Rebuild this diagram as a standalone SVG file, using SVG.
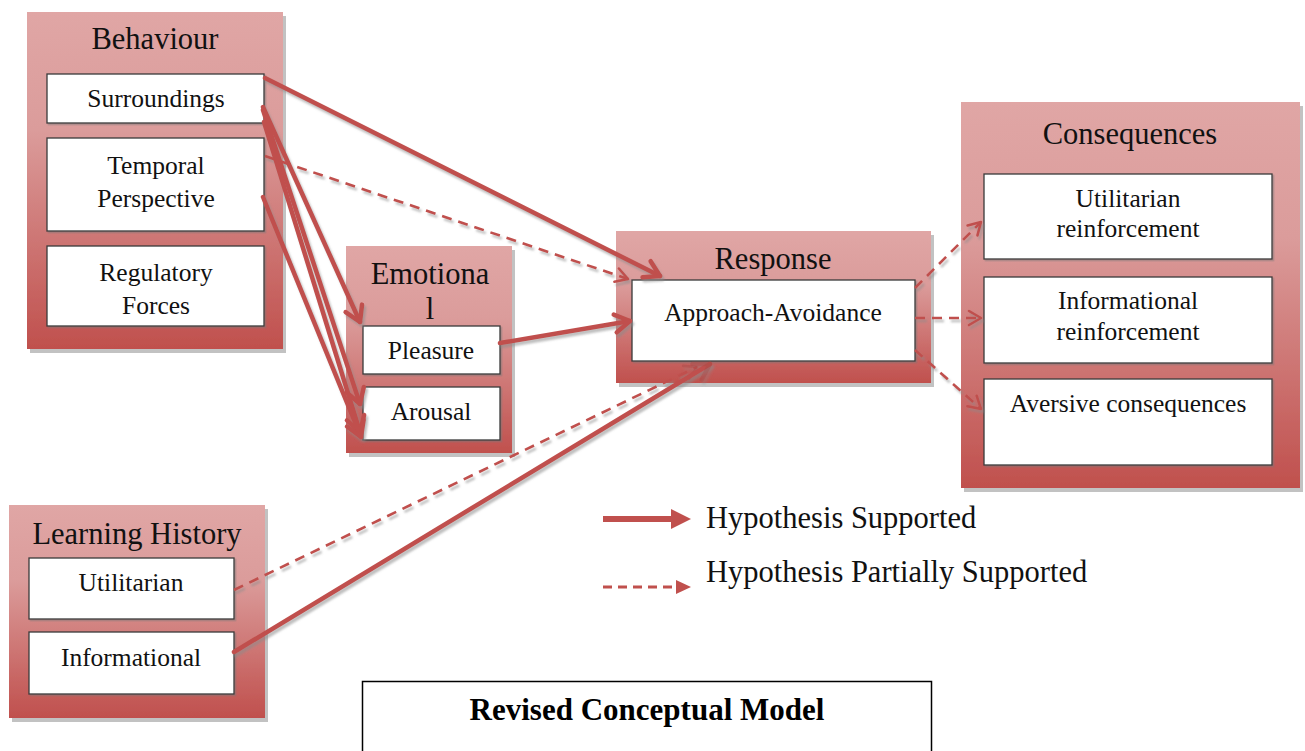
<svg xmlns="http://www.w3.org/2000/svg" width="1305" height="751" viewBox="0 0 1305 751">
  <defs>
    <linearGradient id="groupFill" x1="0" y1="0" x2="0" y2="1">
      <stop offset="0" stop-color="#e0a6a5"/>
      <stop offset="0.35" stop-color="#db9c9b"/>
      <stop offset="1" stop-color="#c0504d"/>
    </linearGradient>
    <filter id="boxShadow" x="-5%" y="-5%" width="112%" height="115%">
      <feDropShadow dx="3" dy="4" stdDeviation="0.6" flood-color="#a8a8a8" flood-opacity="0.7"/>
    </filter>
    <filter id="itemShadow" x="-5%" y="-5%" width="112%" height="120%">
      <feDropShadow dx="1.5" dy="1.5" stdDeviation="0.6" flood-color="#777" flood-opacity="0.5"/>
    </filter>
    <filter id="lineShadow" x="-10%" y="-10%" width="120%" height="130%">
      <feDropShadow dx="2" dy="3" stdDeviation="0.8" flood-color="#8a8a8a" flood-opacity="0.55"/>
    </filter>
    <marker id="headSolid" markerUnits="userSpaceOnUse" markerWidth="28" markerHeight="28" viewBox="-4 -14 28 28" refX="18" refY="0" orient="auto">
      <path d="M3,-9 L18,0 L3,9" fill="none" stroke="#c0504d" stroke-width="4.5" stroke-linecap="round" stroke-linejoin="round"/>
    </marker>
    <marker id="headSolidFaint" markerUnits="userSpaceOnUse" markerWidth="28" markerHeight="28" viewBox="-4 -14 28 28" refX="18" refY="0" orient="auto">
      <path d="M3,-9 L18,0 L3,9" fill="none" stroke="#a84a48" stroke-opacity="0.5" stroke-width="4.5" stroke-linecap="round" stroke-linejoin="round"/>
    </marker>
    <marker id="headDashed" markerUnits="userSpaceOnUse" markerWidth="22" markerHeight="22" viewBox="-3 -11 22 22" refX="14" refY="0" orient="auto">
      <path d="M2,-7 L14,0 L2,7" fill="none" stroke="#c0504d" stroke-width="2.6" stroke-linecap="round" stroke-linejoin="round"/>
    </marker>
    <marker id="headDashedFaint" markerUnits="userSpaceOnUse" markerWidth="22" markerHeight="22" viewBox="-3 -11 22 22" refX="14" refY="0" orient="auto">
      <path d="M2,-7 L14,0 L2,7" fill="none" stroke="#a84a48" stroke-opacity="0.45" stroke-width="2.6" stroke-linecap="round" stroke-linejoin="round"/>
    </marker>
  </defs>
  <style>
    .group { fill: url(#groupFill); filter: url(#boxShadow); }
    .item { fill: #ffffff; stroke: #3a3a3a; stroke-width: 1.3; filter: url(#itemShadow); }
    .title { font-family: "Liberation Serif", "Times New Roman", serif; font-size: 30.5px; fill: #111; text-anchor: middle; }
    .label { font-family: "Liberation Serif", "Times New Roman", serif; font-size: 25.5px; fill: #111; text-anchor: middle; }
    .legend { font-family: "Liberation Serif", "Times New Roman", serif; font-size: 30.5px; fill: #111; }
    .caption { font-family: "Liberation Serif", "Times New Roman", serif; font-size: 31px; font-weight: bold; fill: #000; text-anchor: middle; }
    .solid { fill: none; stroke: #c0504d; stroke-width: 4.5; stroke-linecap: round; }
    .dashed { fill: none; stroke: #c0504d; stroke-width: 2.6; stroke-dasharray: 10 7; }
  </style>

  <rect width="1305" height="751" fill="#ffffff"/>

  <!-- Behaviour -->
  <g id="behaviour">
    <rect class="group" x="27" y="12" width="256" height="337"/>
    <text class="title" x="155" y="49">Behaviour</text>
    <rect class="item" x="47" y="74" width="217" height="49"/>
    <text class="label" x="156" y="107">Surroundings</text>
    <rect class="item" x="47" y="138" width="217" height="93"/>
    <text class="label" x="156" y="174">Temporal</text>
    <text class="label" x="156" y="207">Perspective</text>
    <rect class="item" x="47" y="246" width="217" height="80"/>
    <text class="label" x="156" y="281">Regulatory</text>
    <text class="label" x="156" y="314">Forces</text>
  </g>

  <!-- Emotional -->
  <g id="emotional">
    <rect class="group" x="346" y="246" width="166" height="207"/>
    <text class="title" x="430" y="284">Emotiona</text>
    <text class="title" x="430" y="319">l</text>
    <rect class="item" x="363" y="326" width="137" height="48"/>
    <text class="label" x="431" y="359">Pleasure</text>
    <rect class="item" x="363" y="387" width="137" height="53"/>
    <text class="label" x="431" y="420">Arousal</text>
  </g>

  <!-- Response -->
  <g id="response">
    <rect class="group" x="616" y="231" width="315" height="152"/>
    <text class="title" x="773" y="269">Response</text>
    <rect class="item" x="632" y="280" width="283" height="81"/>
    <text class="label" x="773" y="321">Approach-Avoidance</text>
  </g>

  <!-- Consequences -->
  <g id="consequences">
    <rect class="group" x="961" y="102" width="339" height="386"/>
    <text class="title" x="1130" y="144">Consequences</text>
    <rect class="item" x="984" y="174" width="288" height="85"/>
    <text class="label" x="1128" y="207">Utilitarian</text>
    <text class="label" x="1128" y="237">reinforcement</text>
    <rect class="item" x="984" y="277" width="288" height="86"/>
    <text class="label" x="1128" y="309">Informational</text>
    <text class="label" x="1128" y="340">reinforcement</text>
    <rect class="item" x="984" y="379" width="288" height="86"/>
    <text class="label" x="1128" y="412">Aversive consequences</text>
  </g>

  <!-- Learning History -->
  <g id="learning-history">
    <rect class="group" x="9" y="505" width="256" height="213"/>
    <text class="title" x="137" y="544">Learning History</text>
    <rect class="item" x="29" y="558" width="205" height="61"/>
    <text class="label" x="131" y="591">Utilitarian</text>
    <rect class="item" x="29" y="632" width="205" height="62"/>
    <text class="label" x="131" y="666">Informational</text>
  </g>

  <!-- Paths between constructs -->
  <g id="connectors" filter="url(#lineShadow)">
    <path class="solid" d="M265,78 L660,276" marker-end="url(#headSolid)"/>
    <path class="solid" d="M263,107 L360,322" marker-end="url(#headSolid)"/>
    <path class="solid" d="M263,110 L360,404" marker-end="url(#headSolid)"/>
    <path class="solid" d="M264,122 L360,432" marker-end="url(#headSolid)"/>
    <path class="solid" d="M263,197 L361,437" marker-end="url(#headSolid)"/>
    <path class="dashed" d="M265,156 L628,279" marker-end="url(#headDashed)"/>
    <path class="solid" d="M500,343 L630,321" marker-end="url(#headSolid)"/>
    <path class="dashed" d="M234,590 L697,367" marker-end="url(#headDashedFaint)"/>
    <path class="solid" d="M234,652 L710,364" marker-end="url(#headSolidFaint)"/>
    <path class="dashed" d="M915,288 L981,222" marker-end="url(#headDashed)"/>
    <path class="dashed" d="M915,318 L981,318" marker-end="url(#headDashed)"/>
    <path class="dashed" d="M915,350 L981,409" marker-end="url(#headDashed)"/>
  </g>

  <!-- Legend -->
  <g id="legend">
    <line x1="603" y1="519" x2="673" y2="519" stroke="#c0504d" stroke-width="6"/>
    <polygon points="671,509 691,519 671,529" fill="#c0504d"/>
    <text class="legend" x="706" y="528">Hypothesis Supported</text>
    <line x1="603" y1="587" x2="676" y2="587" stroke="#c0504d" stroke-width="3" stroke-dasharray="9 6"/>
    <polygon points="676,580 691,587 676,594" fill="#c0504d"/>
    <text class="legend" x="706" y="582">Hypothesis Partially Supported</text>
  </g>

  <!-- Caption -->
  <g id="caption">
    <rect x="362.5" y="681.5" width="569" height="80" fill="#ffffff" stroke="#000" stroke-width="1.5"/>
    <text class="caption" x="647" y="720">Revised Conceptual Model</text>
  </g>
</svg>
